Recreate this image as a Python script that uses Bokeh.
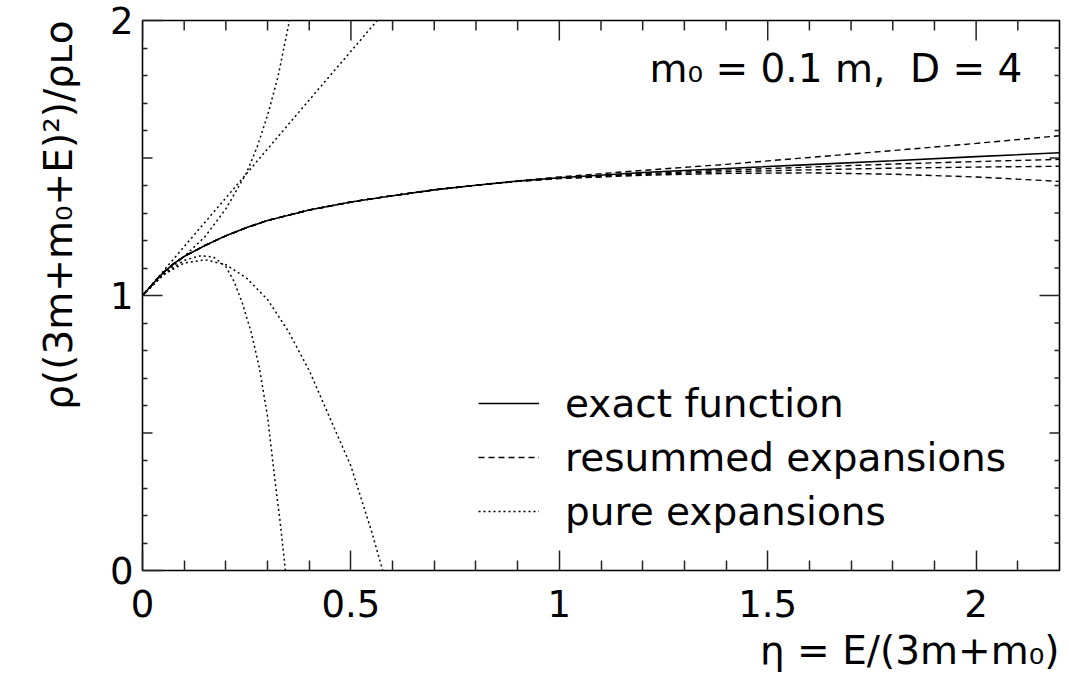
from bokeh.plotting import figure
from bokeh.models import (Range1d, LinearAxis, FixedTicker, PrintfTickFormatter,
                          Label, Legend, LegendItem, Title)
from bokeh.embed import file_html
from bokeh.resources import INLINE

# ---------------- data ----------------
x_exact = [0, 0.025, 0.05, 0.075, 0.1, 0.15, 0.2, 0.25, 0.3, 0.4, 0.5, 0.6, 0.7,
           0.8, 0.9, 1.0, 1.2, 1.4, 1.6, 1.8, 2.0, 2.2]
y_exact = [1.000, 1.043, 1.083, 1.116, 1.142, 1.182, 1.217, 1.247, 1.273, 1.311,
           1.340, 1.363, 1.384, 1.401, 1.416, 1.428, 1.447, 1.462, 1.476, 1.490,
           1.505, 1.519]

# resummed expansions (same x grid as the exact function)
y_resum_a = [1.000, 1.043, 1.083, 1.116, 1.142, 1.182, 1.217, 1.247, 1.273, 1.311,
             1.340, 1.363, 1.384, 1.401, 1.417, 1.431, 1.455, 1.477, 1.502, 1.527,
             1.553, 1.581]
y_resum_b = [1.000, 1.043, 1.083, 1.116, 1.142, 1.182, 1.217, 1.247, 1.273, 1.311,
             1.340, 1.363, 1.384, 1.401, 1.416, 1.427, 1.443, 1.456, 1.467, 1.478,
             1.487, 1.495]
y_resum_c = [1.000, 1.043, 1.083, 1.116, 1.142, 1.182, 1.217, 1.247, 1.273, 1.311,
             1.340, 1.363, 1.384, 1.401, 1.415, 1.426, 1.440, 1.450, 1.457, 1.463,
             1.467, 1.470]
y_resum_d = [1.000, 1.043, 1.083, 1.116, 1.142, 1.182, 1.217, 1.247, 1.273, 1.311,
             1.340, 1.363, 1.384, 1.401, 1.415, 1.425, 1.437, 1.444, 1.446, 1.441,
             1.431, 1.415]

# pure expansions
x_pure1 = [0, 0.1, 0.2, 0.3, 0.4, 0.5, 0.6]
y_pure1 = [1.0, 1.178, 1.355, 1.533, 1.711, 1.888, 2.066]

x_pure2 = [0, 0.05, 0.1, 0.15, 0.2, 0.25, 0.3, 0.35, 0.4, 0.45, 0.5, 0.55, 0.58]
y_pure2 = [1.0, 1.075, 1.118, 1.130, 1.112, 1.063, 0.985, 0.870, 0.727, 0.553,
           0.38, 0.14, -0.02]

x_pure3 = [0, 0.05, 0.1, 0.15, 0.2, 0.25, 0.275, 0.3, 0.325, 0.35, 0.37]
y_pure3 = [1.0, 1.077, 1.142, 1.214, 1.315, 1.447, 1.540, 1.655, 1.795, 1.980, 2.15]

x_pure4 = [0, 0.05, 0.1, 0.14, 0.17, 0.2, 0.22, 0.24, 0.26, 0.28, 0.3, 0.31, 0.32,
           0.33, 0.34, 0.35]
y_pure4 = [1.0, 1.076, 1.128, 1.145, 1.140, 1.105, 1.05, 0.97, 0.87, 0.74, 0.56,
           0.43, 0.30, 0.18, 0.04, -0.1]

x_major = [0, 0.5, 1, 1.5, 2]
x_minor = [0.1, 0.2, 0.3, 0.4, 0.6, 0.7, 0.8, 0.9, 1.1, 1.2, 1.3, 1.4, 1.6, 1.7,
           1.8, 1.9, 2.1]
y_major = [0, 1, 2]
y_mid = [0.5, 1.5]
y_minor = [0.1, 0.2, 0.3, 0.4, 0.6, 0.7, 0.8, 0.9, 1.1, 1.2, 1.3, 1.4, 1.6, 1.7,
           1.8, 1.9]

legend_labels = ["exact function", "resummed expansions", "pure expansions"]
annotation_text = "m\u2080 = 0.1 m, \u00a0D = 4"
x_label_text = "\u03b7 = E/(3m+m\u2080)"
y_label_text = "\u03c1((3m+m\u2080+E)\u00b2)/\u03c1\u029f\u1d0f"

FONT = "DejaVu Sans"
TICK_COLOR = "#222222"

# ---------------- geometry ----------------
W, H = 1061, 678
B_LEFT, B_RIGHT, B_TOP, B_BOTTOM = 142, 2, 20, 108
X0, X1, Y0, Y1 = 0, 2.2, 0, 2
FW = W - B_LEFT - B_RIGHT
FH = H - B_TOP - B_BOTTOM
KX = (X1 - X0) / FW   # data units per pixel
KY = (Y1 - Y0) / FH

p = figure(width=W, height=H, x_range=Range1d(X0, X1), y_range=Range1d(Y0, Y1),
           output_backend="svg", toolbar_location=None,
           x_axis_location=None, y_axis_location=None,
           min_border_left=B_LEFT, min_border_right=B_RIGHT,
           min_border_top=B_TOP, min_border_bottom=B_BOTTOM)
p.xgrid.grid_line_color = None
p.ygrid.grid_line_color = None
p.outline_line_color = "black"
p.outline_line_width = 1.6
p.background_fill_color = "white"
p.border_fill_color = "white"


def style_axis(ax, major_in, minor_in, standoff):
    ax.axis_line_color = None
    ax.major_tick_in = major_in
    ax.major_tick_out = 0
    ax.minor_tick_in = minor_in
    ax.minor_tick_out = 0
    ax.major_tick_line_color = TICK_COLOR
    ax.minor_tick_line_color = TICK_COLOR
    ax.major_tick_line_width = 1.5
    ax.minor_tick_line_width = 1.5
    ax.formatter = PrintfTickFormatter(format="%g")
    ax.major_label_text_font = FONT
    ax.major_label_text_font_size = "37px"
    ax.major_label_text_color = "black"
    ax.major_label_standoff = standoff


xax = LinearAxis(ticker=FixedTicker(ticks=x_major, minor_ticks=x_minor))
style_axis(xax, 20, 10, 19)
yax = LinearAxis(ticker=FixedTicker(ticks=y_major, minor_ticks=y_minor))
style_axis(yax, 20, 5, 9)
p.add_layout(xax, "below")
p.add_layout(yax, "left")

# axis titles, right / top aligned as in the reference
p.add_layout(Title(text=x_label_text, align="right", vertical_align="bottom",
                   standoff=12, text_font=FONT, text_font_size="39px",
                   text_font_style="normal", text_color="black"), "below")
p.add_layout(Title(text=y_label_text, align="right", vertical_align="top",
                   standoff=48, text_font=FONT, text_font_size="39px",
                   text_font_style="normal", text_color="black"), "left")

# mirrored / intermediate tick marks (inward) on top, right and left
seg = dict(line_color=TICK_COLOR, line_width=1.5)
p.segment(x0=x_major, y0=[Y1] * len(x_major), x1=x_major,
          y1=[Y1 - 20 * KY] * len(x_major), **seg)
p.segment(x0=x_minor, y0=[Y1] * len(x_minor), x1=x_minor,
          y1=[Y1 - 10 * KY] * len(x_minor), **seg)
p.segment(x0=[X1] * len(y_major), y0=y_major, x1=[X1 - 20 * KX] * len(y_major),
          y1=y_major, **seg)
p.segment(x0=[X1] * len(y_mid), y0=y_mid, x1=[X1 - 10 * KX] * len(y_mid),
          y1=y_mid, **seg)
p.segment(x0=[X1] * len(y_minor), y0=y_minor, x1=[X1 - 5 * KX] * len(y_minor),
          y1=y_minor, **seg)
p.segment(x0=[X0] * len(y_mid), y0=y_mid, x1=[X0 + 10 * KX] * len(y_mid),
          y1=y_mid, **seg)

# ---------------- curves ----------------
r_exact = p.line(x_exact, y_exact, line_color="black", line_width=1.6)
r_res = None
for ys in (y_resum_a, y_resum_b, y_resum_c, y_resum_d):
    r = p.line(x_exact, ys, line_color="black", line_width=1.4, line_dash="6 4")
    r_res = r_res or r
r_pure = None
for xs, ys in ((x_pure1, y_pure1), (x_pure2, y_pure2), (x_pure3, y_pure3),
               (x_pure4, y_pure4)):
    r = p.line(xs, ys, line_color="black", line_width=1.5, line_dash="2 3")
    r_pure = r_pure or r

legend = Legend(items=[LegendItem(label=legend_labels[0], renderers=[r_exact]),
                       LegendItem(label=legend_labels[1], renderers=[r_res]),
                       LegendItem(label=legend_labels[2], renderers=[r_pure])],
                location=(336, 32), orientation="vertical",
                glyph_width=61, glyph_height=54, label_height=54,
                label_standoff=26, spacing=0, padding=0, margin=0,
                border_line_color=None, background_fill_alpha=0,
                label_text_font=FONT, label_text_font_size="39px",
                label_text_color="black")
p.add_layout(legend, "center")

p.add_layout(Label(x=2.111, y=1.825, text=annotation_text, text_align="right",
                   text_baseline="alphabetic", text_font=FONT,
                   text_font_size="39px", text_color="black"))

open("out.html", "w").write(file_html(p, INLINE))
